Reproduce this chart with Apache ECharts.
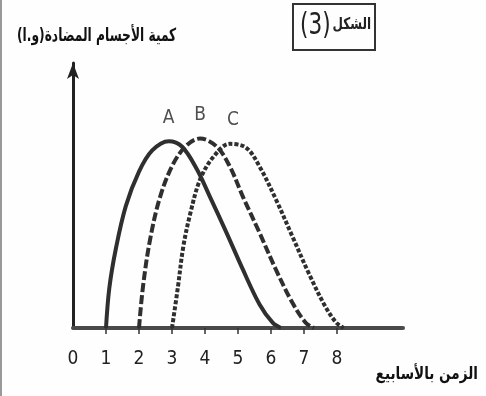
<!DOCTYPE html>
<html>
<head>
<meta charset="utf-8">
<script src="https://cdn.jsdelivr.net/npm/echarts@6/dist/echarts.min.js"></script>
<style>
  html, body { margin: 0; padding: 0; background: #fff; }
  #chart { width: 486px; height: 396px; }
</style>
</head>
<body>
<div id="chart"></div>
<script>
// الزمن بالأسابيع / كمية الأجسام المضادة
var weekTicks = [0, 1, 2, 3, 4, 5, 6, 7, 8];
var curveA = [[1, 0], [1.1, 15], [1.3, 30], [1.6, 46], [2.0, 59], [2.4, 67], [2.9, 70.5], [3.3, 68.5], [3.75, 60], [4.15, 49.5], [4.65, 36], [5.15, 22], [5.65, 9], [6.05, 2], [6.3, 0]];
var curveB = [[2, 0], [2.12, 15.5], [2.33, 33], [2.64, 49.5], [3.04, 62], [3.45, 69], [3.85, 71.5], [4.35, 68.5], [4.75, 61], [5.15, 49.5], [5.65, 36], [6.15, 22], [6.65, 9.5], [7.05, 2], [7.3, 0]];
var curveC = [[3, 0], [3.18, 15.5], [3.34, 30.5], [3.55, 43], [3.85, 56], [4.25, 64.5], [4.75, 69.5], [5.25, 68], [5.65, 61], [6.15, 48.5], [6.65, 34.5], [7.15, 20.5], [7.65, 8], [7.98, 2], [8.2, 0]];
var curveNames = ['A', 'B', 'C'];
var peakPoints = [[2.9, 70.5], [3.85, 71.5], [4.85, 69.5]];

var chart = echarts.init(document.getElementById('chart'));
var ink = '#2f2f2f';

function curveSeries(name, data, type, dash){
	return {
		name: name,
		type: 'line',
		data: data,
		smooth: 0.35,
		showSymbol: false,
		lineStyle: { color: ink, width: 4, type: dash || type },
		z: 3
	};
}

var option = {
	backgroundColor: '#fefefe',
	animation: false,
	grid: { left: 73, right: 83, top: 63, bottom: 68 },
	xAxis: {
		type: 'value',
		min: 0,
		max: 10,
		interval: 1,
		splitLine: { show: false },
		axisLine: { lineStyle: { color: '#4a4a4a', width: 4 } },
		axisTick: { show: true, inside: false, length: 6, customValues: [1, 2, 3, 4, 5, 6, 7, 8], lineStyle: { color: '#333', width: 1.5 } },
		axisLabel: {
			customValues: weekTicks,
			margin: 22,
			color: '#222',
			fontFamily: 'DejaVu Sans Condensed',
			fontSize: 19
		}
	},
	yAxis: {
		type: 'value',
		min: 0,
		max: 100,
		splitLine: { show: false },
		axisLabel: { show: false },
		axisTick: { show: false },
		axisLine: { show: true, symbol: ['none', 'arrow'], symbolSize: [9, 16], lineStyle: { color: '#222', width: 3 } }
	},
	series: [
		curveSeries('A', curveA, 'solid'),
		curveSeries('B', curveB, 'dashed', [9, 3]),
		curveSeries('C', curveC, 'dotted', [4, 2]),
		{
			type: 'scatter',
			data: peakPoints,
			symbolSize: 0,
			label: {
				show: true,
				position: 'top',
				distance: 14,
				formatter: function (p) { return curveNames[p.dataIndex]; },
				color: '#222',
				fontFamily: 'DejaVu Sans Condensed',
				fontSize: 19
			}
		}
	],
	graphic: [
		{ type: 'line', shape: { x1: 1, y1: 0, x2: 1, y2: 396 }, style: { stroke: '#999', lineWidth: 2 } },
		{
			type: 'text', x: 17, y: 27, scaleX: 0.68,
			style: { text: 'كمية الأجسام المضادة(و.ا)', font: 'bold 18px "DejaVu Sans"', fill: '#111' }
		},
		{ type: 'rect', shape: { x: 293, y: 4, width: 82, height: 46 }, style: { fill: 'none', stroke: '#333', lineWidth: 2 } },
		{
			type: 'text', x: 300, y: 11, scaleX: 0.8,
			style: { text: '(3)', font: '30px "DejaVu Sans Condensed"', fill: '#222' }
		},
		{
			type: 'text', x: 371, y: 17, scaleX: 0.75,
			style: { text: 'الشكل', font: 'bold 16px "DejaVu Sans"', fill: '#222', align: 'right' }
		},
		{
			type: 'text', x: 478, y: 366, scaleX: 0.8,
			style: { text: 'الزمن بالأسابيع', font: 'bold 17px "DejaVu Sans"', fill: '#111', align: 'right' }
		}
	]
};
chart.setOption(option);
</script>
</body>
</html>
